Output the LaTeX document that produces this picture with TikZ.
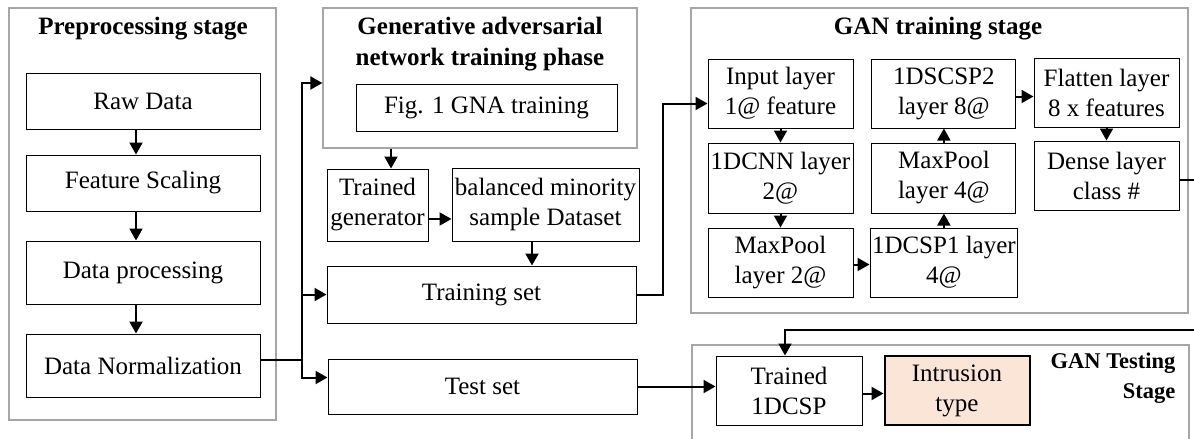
\documentclass[tikz,border=0pt]{standalone}
\usepackage{fontspec}
\setmainfont{Liberation Serif}
\usepackage{xcolor}
\usepackage{tikz}
\usetikzlibrary{arrows.meta, positioning}

\definecolor{framegray}{HTML}{A6A6A6}
\definecolor{peach}{HTML}{FBE5D6}

\begin{document}
\begin{tikzpicture}[
    x=1pt, y=-1pt,
    font=\fontsize{25pt}{30pt}\selectfont,
    box/.style={rectangle, draw=black, line width=1pt, align=center, inner xsep=2pt, inner ysep=1pt},
    stage/.style={rectangle, draw=framegray, line width=1.2pt},
    title/.style={font=\fontsize{25pt}{31pt}\selectfont\bfseries, align=center},
    result/.style={box, fill=peach, line width=2pt},
    line/.style={line width=2pt},
    arrow/.style={-{Triangle[length=12pt, width=13pt]}, line width=2pt}
]
\useasboundingbox (0,0) rectangle (1194,439);
\clip (0,0) rectangle (1194,439);

% preprocessing
\node[stage, minimum width=267pt, minimum height=412pt] (prepframe) at (142.5,214) {};
\node[title] (preptitle) at (143,29) {Preprocessing stage};
\node[box, minimum width=234pt, minimum height=56pt] (raw) at (143,101) {Raw Data};
\node[box, minimum width=234pt, minimum height=56pt, below=25pt of raw] (scaling) {Feature Scaling};
\node[box, minimum width=234pt, minimum height=63pt, below=29pt of scaling] (dproc) {Data processing};
\node[box, minimum width=234pt, minimum height=63pt, below=29pt of dproc] (norm) {Data Normalization};

% GAN phase
\node[stage, minimum width=314pt, minimum height=140pt] (ganframe) at (480,78) {};
\node[title] (gantitle) at (480,44.5) {Generative adversarial\\network training phase};
\node[box, minimum width=261pt, minimum height=47pt] (fig1) at (486.5,107.5) {Fig. 1 GNA training};
\node[box, minimum width=101pt, minimum height=72pt] (tgen) at (377.5,205) {Trained\\generator};
\node[box, minimum width=187pt, minimum height=73pt] (balanced) at (545.5,204.5) {balanced minority\\sample Dataset};
\node[box, minimum width=309pt, minimum height=57pt] (trainset) at (481.5,294.5) {Training set};
\node[box, minimum width=309pt, minimum height=55pt] (testset) at (482.5,386.5) {Test set};

% GAN training stage
\node[stage, minimum width=497pt, minimum height=305pt] (trainframe) at (939.5,160.5) {};
\node[title] (traintitle) at (938,29) {GAN training stage};
\node[box, minimum width=145pt, minimum height=69pt] (input) at (780.5,93.5) {Input layer\\1@ feature};
\node[box, minimum width=145pt, minimum height=70pt, below=14pt of input] (cnn) {1DCNN layer\\2@};
\node[box, minimum width=145pt, minimum height=69pt, below=14pt of cnn] (pooltwo) {MaxPool\\layer 2@};
\node[box, minimum width=144pt, minimum height=69pt, right=16pt of pooltwo] (cspone) {1DCSP1 layer\\4@};
\node[box, minimum width=144pt, minimum height=70pt, above=14pt of cspone] (poolfour) {MaxPool\\layer 4@};
\node[box, minimum width=144pt, minimum height=69pt, above=14pt of poolfour] (scsptwo) {1DSCSP2\\layer 8@};
\node[box, minimum width=145pt, minimum height=69pt] (flatten) at (1106.5,92.5) {Flatten layer\\8 x features};
\node[box, minimum width=145pt, minimum height=69pt, below=13pt of flatten] (dense) {Dense layer\\class \#};

% GAN testing stage
\node[stage, minimum width=497pt, minimum height=120pt] (testframe) at (940.5,405) {};
\node[title, font=\fontsize{22.5pt}{30pt}\selectfont\bfseries, align=right, anchor=east] (testtitle) at (1179,378) {GAN Testing\\Stage};
\node[box, minimum width=146pt, minimum height=69pt] (trained) at (789,390.5) {Trained\\1DCSP};
\node[result, minimum width=145pt, minimum height=69pt, right=21pt of trained] (intrusion) {Intrusion\\type};

\coordinate (split) at ([xshift=41pt, yshift=5.5pt]norm.east);
\coordinate (loop) at (1210,330);

\draw[arrow] ([xshift=-7pt]raw.south) -- ([xshift=-7pt]scaling.north);
\draw[arrow] ([xshift=-7pt]scaling.south) -- ([xshift=-7pt]dproc.north);
\draw[arrow] ([xshift=-7pt]dproc.south) -- ([xshift=-7pt]norm.north);

\draw[line] ([yshift=5.5pt]norm.east) -- (split);
\draw[arrow] (split) |- ([yshift=-5pt]ganframe.west);
\draw[arrow] (split |- trainset.west) -- (trainset.west);
\draw[arrow] (split) |- ([yshift=9pt]testset.west);

\draw[arrow] ([xshift=13.5pt]tgen.north |- ganframe.south) -- ([xshift=13.5pt]tgen.north);
\draw[arrow] ([yshift=-14pt]tgen.east) -- ([yshift=-14pt]tgen.east -| balanced.west);
\draw[arrow] ([xshift=-13.5pt]balanced.south) -- ([xshift=-13.5pt]balanced.south |- trainset.north);

\draw[arrow] (trainset.east) -- ++(26pt,0) |- ([yshift=-10pt]input.west);
\draw[arrow] (input) -- (cnn);
\draw[arrow] (cnn) -- (pooltwo);
\draw[arrow] ([yshift=-2pt]pooltwo.east) -- ([yshift=-2pt]cspone.west);
\draw[arrow] (cspone) -- (poolfour);
\draw[arrow] (poolfour) -- (scsptwo);
\draw[arrow] ([yshift=-3pt]scsptwo.east) -- ([yshift=-3pt]scsptwo.east -| flatten.west);
\draw[arrow] (flatten) -- (dense);

\draw[arrow] ([yshift=-4pt]dense.east) -| (loop) -| ([xshift=-4pt]trained.north);
\draw[arrow] (testset.east) -- (testset.east -| trained.west);
\draw[arrow] ([yshift=-3pt]trained.east) -- ([yshift=-3pt]intrusion.west);

\end{tikzpicture}
\end{document}
